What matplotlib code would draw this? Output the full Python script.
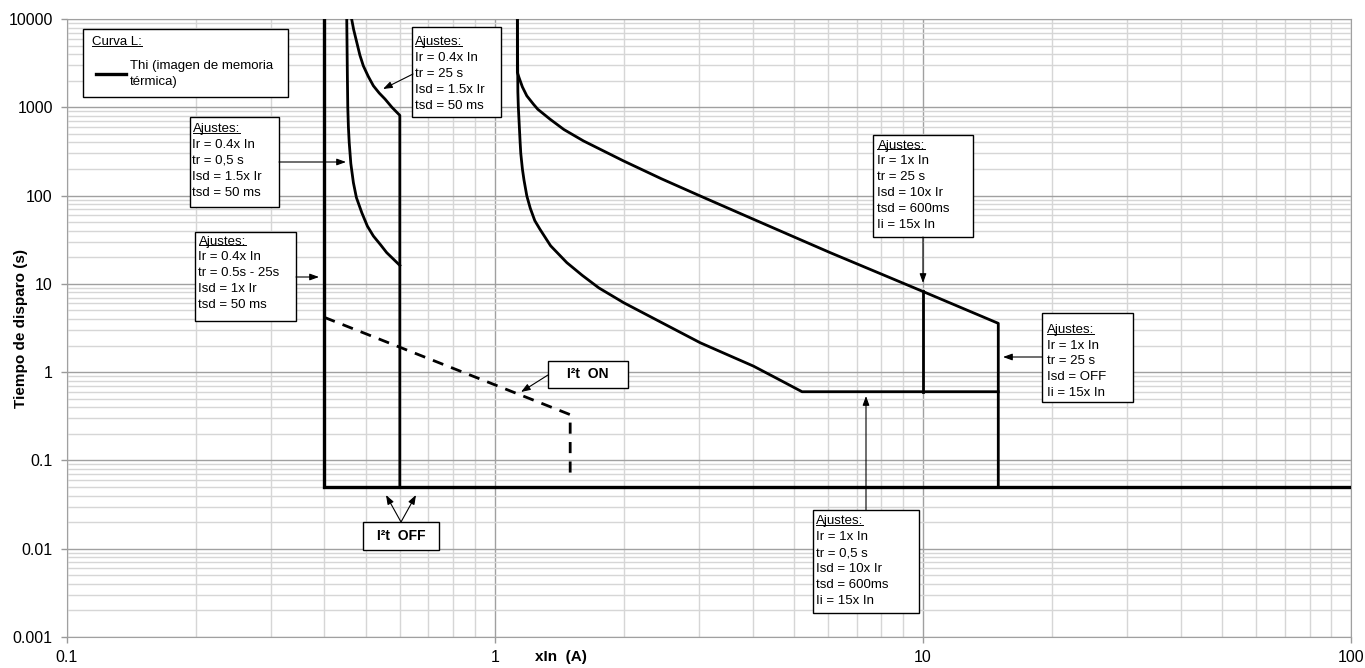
import numpy as np
import matplotlib
matplotlib.use("Agg")
import matplotlib.pyplot as plt
from matplotlib.patches import Rectangle
from matplotlib.lines import Line2D
from matplotlib.ticker import LogLocator, NullFormatter
from matplotlib.transforms import IdentityTransform

plt.rcParams['font.family'] = ['Liberation Sans', 'DejaVu Sans']

# curves: x in multiples of In, t in seconds
# Ir = 0.4x In, Isd = 1x Ir, then the 50 ms floor
floor_x = [0.4, 0.4, 100]
floor_t = [10000, 0.05, 0.05]

# Ir = 0.4x In, tr = 25 s, Isd = 1.5x Ir
l25_x = [0.463, 0.468, 0.476, 0.484, 0.493, 0.506, 0.5205, 0.537, 0.554, 0.575, 0.6, 0.6]
l25_t = [10000, 7600, 5430, 3900, 2950, 2250, 1750, 1450, 1240, 1000, 810, 0.05]

# Ir = 0.4x In, tr = 0.5 s, Isd = 1.5x Ir
l05_x = [0.451, 0.4525, 0.4535, 0.455, 0.457, 0.461, 0.4674, 0.475, 0.489, 0.504,
         0.5205, 0.54, 0.559, 0.58, 0.6]
l05_t = [10000, 2270, 1000, 600, 399, 230, 140, 95, 64, 45,
         34.8, 28, 22.6, 19, 16.2]

# Ir = 1x In, tr = 25 s, Ii = 15x In
r25_x = [1.129, 1.129, 1.14, 1.16, 1.188, 1.231, 1.26, 1.346, 1.45, 1.611, 1.998, 2.45,
         3.018, 4.02, 5.0, 6.07, 8.0, 10, 15, 15]
r25_t = [10000, 2480, 2150, 1700, 1347, 1084, 950, 733, 560, 416, 247, 155,
         99, 53.9, 34, 22.6, 12.9, 8.2, 3.57, 0.05]

# Ir = 1x In, tr = 0.5 s, Isd = 10x Ir, tsd = 600 ms
r05_x = [1.129, 1.132, 1.135, 1.146, 1.15, 1.16, 1.17, 1.188, 1.21, 1.24, 1.275, 1.35,
         1.473, 1.6, 1.75, 2.0, 2.4, 3.02, 3.5, 4.02, 4.6, 5.22, 15]
r05_t = [10000, 1500, 1000, 399, 300, 200, 150, 99, 72, 52, 41.5, 27,
         17.4, 12.5, 9.0, 6.12, 3.85, 2.15, 1.57, 1.17, 0.83, 0.6, 0.6]

# Isd = 10x Ir step
isd_x = [10, 10]
isd_t = [8.2, 0.6]

# I2t ON (dashed)
i2t_x = [0.4, 1.5, 1.5]
i2t_t = [4.17, 0.33, 0.06]

x_ticks = [0.1, 1, 10, 100]
x_tick_labels = ['0.1', '1', '10', '100']
y_ticks = [0.001, 0.01, 0.1, 1, 10, 100, 1000, 10000]
y_tick_labels = ['0.001', '0.01', '0.1', '1', '10', '100', '1000', '10000']

# pixel frame of the plot area (used for placing the boxes)
AX_L, AX_R, AX_T, AX_B = 66.7, 1351.0, 19.0, 637.0
W, H = 1365, 668


def af(x, y):
    return ((x - AX_L) / (AX_R - AX_L), (AX_B - y) / (AX_B - AX_T))


fig = plt.figure(figsize=(W / 100, H / 100), dpi=100)
ax = fig.add_axes([AX_L / W, (H - AX_B) / H, (AX_R - AX_L) / W, (AX_B - AX_T) / H])
ax.set_xscale('log')
ax.set_yscale('log')
ax.set_xlim(0.1, 100)
ax.set_ylim(0.001, 10000)

ax.xaxis.set_minor_locator(LogLocator(base=10, subs=np.arange(2, 10)))
ax.yaxis.set_minor_locator(LogLocator(base=10, subs=np.arange(2, 10)))
ax.xaxis.set_minor_formatter(NullFormatter())
ax.yaxis.set_minor_formatter(NullFormatter())
ax.set_xticks(x_ticks)
ax.set_xticklabels(x_tick_labels)
ax.set_yticks(y_ticks)
ax.set_yticklabels(y_tick_labels)
ax.grid(which='major', color='#a0a0a0', lw=1.0, zorder=0)
ax.grid(which='minor', color='#d6d6d6', lw=1.0, zorder=0)
ax.set_axisbelow(True)
ax.tick_params(which='major', length=4, color='#999999', labelsize=11.5, width=1)
ax.tick_params(axis='x', which='major', pad=5)
ax.tick_params(axis='y', which='major', pad=6)
ax.tick_params(which='minor', length=0)
for s in ax.spines.values():
    s.set_color('#a0a0a0')

ax.set_xlabel('xIn  (A)', fontsize=11, fontweight='bold')
ax.set_ylabel('Tiempo de disparo (s)', fontsize=11, fontweight='bold')
ax.xaxis.set_label_coords(0.385, -0.021)
ax.yaxis.set_label_coords(-0.03, 0.5)

lw = 2.0
ax.plot(floor_x, floor_t, color='black', lw=2.4, zorder=3, solid_joinstyle='miter')
ax.plot(l25_x, l25_t, color='black', lw=lw, zorder=3)
ax.plot(l05_x, l05_t, color='black', lw=lw, zorder=3)
ax.plot(r25_x, r25_t, color='black', lw=lw, zorder=3)
ax.plot(r05_x, r05_t, color='black', lw=lw, zorder=3)
ax.plot(isd_x, isd_t, color='black', lw=lw, zorder=3)
ax.plot(i2t_x, i2t_t, color='black', lw=lw, ls=(0, (4, 3)), zorder=3)

underline = []


def box(x0, y0, x1, y1):
    fx0, fy0 = af(x0, y1)
    fx1, fy1 = af(x1, y0)
    ax.add_patch(Rectangle((fx0, fy0), fx1 - fx0, fy1 - fy0, transform=ax.transAxes,
                           facecolor='white', edgecolor='black', lw=1.0,
                           zorder=5, clip_on=False))


def settings_box(x0, y0, x1, y1, lines, first, left):
    box(x0, y0, x1, y1)
    for i, s in enumerate(lines):
        t = ax.text(*af(x0 + left, y0 + first + i * 15.9), s, transform=ax.transAxes,
                    ha='left', va='center', fontsize=9.5, zorder=6)
        if i == 0:
            underline.append(t)


def arrow(tail, tip):
    ax.annotate('', xy=af(*tip), xytext=af(*tail), xycoords='axes fraction',
                textcoords='axes fraction', annotation_clip=False,
                arrowprops=dict(arrowstyle='-|>,head_length=0.55,head_width=0.2',
                                lw=0.8, color='black', shrinkA=0, shrinkB=0),
                zorder=6)


# legend box
box(83, 29, 288, 97)
t = ax.text(*af(92.3, 42.3), 'Curva L:', transform=ax.transAxes, ha='left',
            va='center', fontsize=9.5, zorder=6)
underline.append(t)
lx0, ly = af(95.7, 74)
lx1, _ = af(125.7, 74)
ax.add_line(Line2D([lx0, lx1], [ly, ly], transform=ax.transAxes, color='black',
                   lw=2.4, zorder=6, clip_on=False))
ax.text(*af(130.3, 65.7), 'Thi (imagen de memoria', transform=ax.transAxes,
        ha='left', va='center', fontsize=9.5, zorder=6)
ax.text(*af(130.3, 81.7), 'térmica)', transform=ax.transAxes,
        ha='left', va='center', fontsize=9.5, zorder=6)

settings_box(412, 27, 501, 117,
             ['Ajustes:', 'Ir = 0.4x In', 'tr = 25 s', 'Isd = 1.5x Ir', 'tsd = 50 ms'], 15, 3)
arrow((413, 74), (383, 89))

settings_box(190, 117, 279, 207,
             ['Ajustes:', 'Ir = 0.4x In', 'tr = 0,5 s', 'Isd = 1.5x Ir', 'tsd = 50 ms'], 12, 2.5)
arrow((279, 162), (346, 162))

settings_box(195, 232, 296, 321,
             ['Ajustes:', 'Ir = 0.4x In', 'tr = 0.5s - 25s', 'Isd = 1x Ir', 'tsd = 50 ms'], 9.5, 3.5)
arrow((296, 277), (319, 277))

settings_box(873, 135, 973, 237,
             ['Ajustes:', 'Ir = 1x In', 'tr = 25 s', 'Isd = 10x Ir', 'tsd = 600ms', 'Ii = 15x In'], 10.5, 4.5)
arrow((923, 237), (923, 283))

settings_box(1042, 313, 1133, 402,
             ['Ajustes:', 'Ir = 1x In', 'tr = 25 s', 'Isd = OFF', 'Ii = 15x In'], 16.7, 5)
arrow((1042, 357), (1003, 357))

settings_box(813, 510, 919, 613,
             ['Ajustes:', 'Ir = 1x In', 'tr = 0,5 s', 'Isd = 10x Ir', 'tsd = 600ms', 'Ii = 15x In'], 11.3, 3)
arrow((866, 510), (866, 396))

# I2t boxes
box(548, 361, 628, 388)
ax.text(*af(588, 374.5), 'I²t  ON', transform=ax.transAxes, ha='center', va='center',
        fontsize=10, fontweight='bold', zorder=6)
arrow((548, 375), (521, 392))

box(363, 522, 439, 550)
ax.text(*af(401, 536), 'I²t  OFF', transform=ax.transAxes, ha='center', va='center',
        fontsize=10, fontweight='bold', zorder=6)
arrow((401, 522), (386, 495))
arrow((401, 522), (416, 495))

# underline the box titles
fig.canvas.draw()
r = fig.canvas.get_renderer()
for t in underline:
    bb = t.get_window_extent(r)
    fig.add_artist(Line2D([bb.x0, bb.x1], [bb.y0 + 2.2, bb.y0 + 2.2],
                          transform=IdentityTransform(), color='black', lw=0.7, zorder=7))

fig.savefig('out.png', dpi=100)
